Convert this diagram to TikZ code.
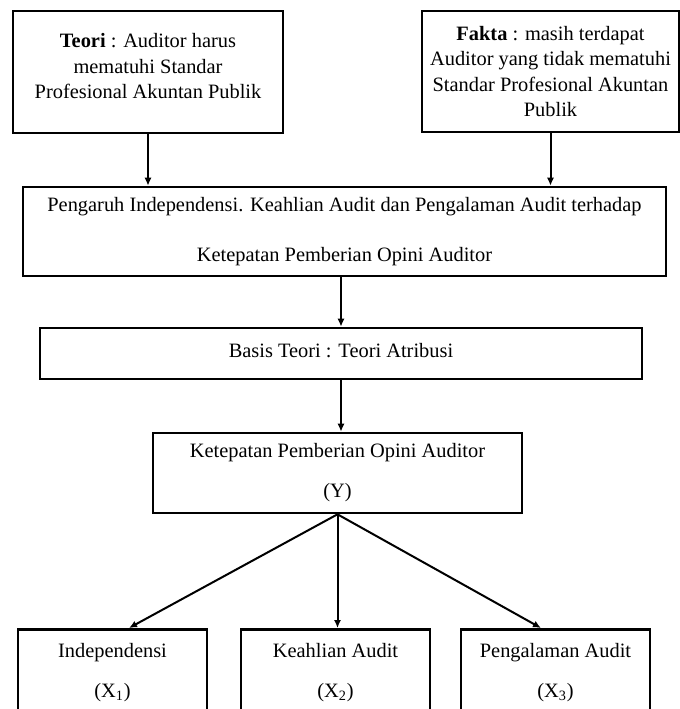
\documentclass[tikz,border=0pt]{standalone}
\usepackage{fontspec}
\setmainfont{Liberation Serif}
\usepackage{tikz}
\usetikzlibrary{calc}
\usetikzlibrary{arrows, arrows.meta, shapes}

\begin{document}
\begin{tikzpicture}[x = 0.5pt, y = -0.5pt, >={Latex[length=4pt, width=3.6pt]}]

\tikzstyle{box_t}=[rectangle, draw=black, line width = 1.3, align=center, inner sep=2pt, font=\fontsize{10.2}{12.75}\selectfont]
\tikzstyle{box_m}=[rectangle, draw=black, line width = 1.3, align=center, inner sep=2pt, font=\fontsize{10.2}{12.5}\selectfont]
\tikzstyle{box_x}=[box_m, anchor=north, minimum width = 94.5pt, minimum height = 50pt]

\useasboundingbox (0, 0) rectangle (680, 709);
\clip (0, 0) rectangle (680, 709);

\coordinate (T) at (148, 72);
\coordinate (F) at (550.5, 71.5);
\coordinate (P) at (344.5, 231.5);
\coordinate (B) at (341, 353.5);
\coordinate (O) at (337.5, 473);
\coordinate (X1) at (112.5, 628);
\coordinate (X2) at (335.5, 628);
\coordinate (X3) at (555.5, 628);

\path
(T) node[box_t, minimum width = 135pt, minimum height = 61pt](teori) {\textbf{Teori} : Auditor harus\\ mematuhi Standar\\ Profesional Akuntan Publik\rule[-6pt]{0pt}{0pt}}
(F) node[box_t, minimum width = 128.5pt, minimum height = 60.5pt](fakta) {\textbf{Fakta} : masih terdapat\\ Auditor yang tidak mematuhi\\ Standar Profesional Akuntan\\ Publik}
(P) node[box_m, minimum width = 321.5pt, minimum height = 44.5pt](pengaruh) {Pengaruh Independensi. Keahlian Audit dan Pengalaman Audit terhadap\\[12.5pt] Ketepatan Pemberian Opini Auditor}
(B) node[box_m, minimum width = 301pt, minimum height = 25.5pt](basis) {Basis Teori : Teori Atribusi\rule[-3.5pt]{0pt}{0pt}}
(O) node[box_m, minimum width = 184.5pt, minimum height = 40pt](opini) {Ketepatan Pemberian Opini Auditor\\[7.5pt] (Y)}
(X1) node[box_x](indep) {\strut Independensi\\[7.5pt]\strut (X\textsubscript{1})\rule[-11pt]{0pt}{0pt}}
(X2) node[box_x](keahlian) {\strut Keahlian Audit\\[7.5pt]\strut (X\textsubscript{2})\rule[-11pt]{0pt}{0pt}}
(X3) node[box_x](pengalaman) {\strut Pengalaman Audit\\[7.5pt]\strut (X\textsubscript{3})\rule[-11pt]{0pt}{0pt}};

% arrows down the middle
\draw[->, line width = 1, color = black] (teori.south) to (teori.south |- pengaruh.north);
\draw[->, line width = 1, color = black] (fakta.south) to (fakta.south |- pengaruh.north);
\draw[->, line width = 1, color = black] (basis.north |- pengaruh.south) to (basis.north);
\draw[->, line width = 1, color = black] (basis.south) to (basis.south |- opini.north);

% arrows to the variables
\draw[->, line width = 1, color = black] (opini.south) to ($(indep.north) + (16.5, 0)$);
\draw[->, line width = 1, color = black] (opini.south) to (opini.south |- keahlian.north);
\draw[->, line width = 1, color = black] (opini.south) to ($(pengalaman.north) + (-14.5, 0)$);

\end{tikzpicture}
\end{document}
